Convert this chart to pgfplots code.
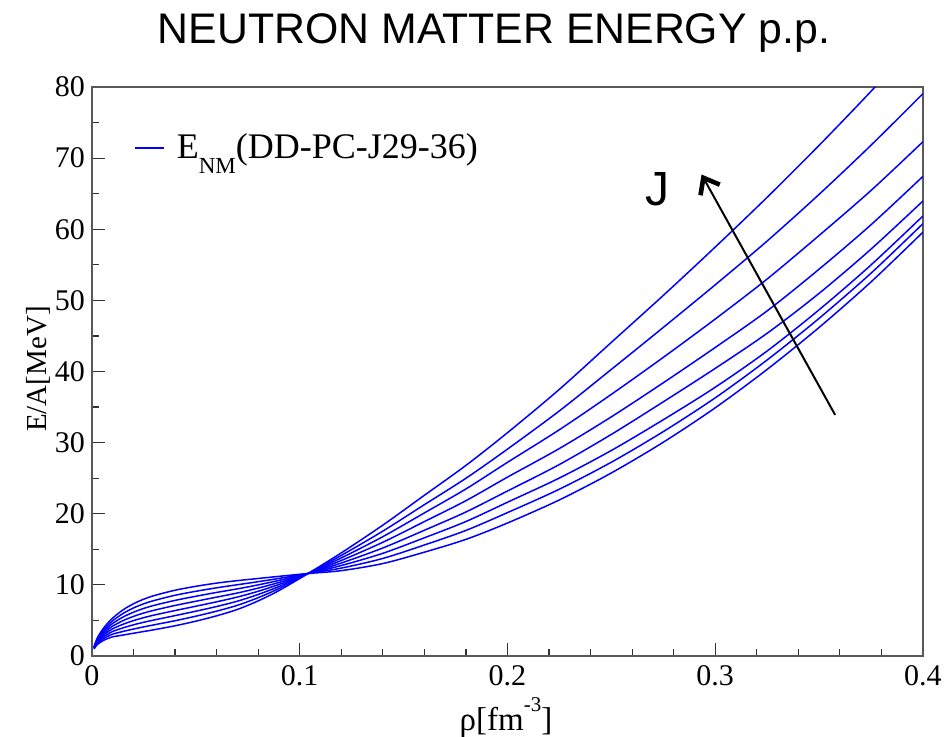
\documentclass[border=0pt]{standalone}
\usepackage{fontspec}
\setmainfont{Liberation Serif}
\newfontfamily\arialfont{Liberation Sans}
\usepackage{pgfplots}
\pgfplotsset{compat=1.18}
\usepackage{pgfplotstable}
\usetikzlibrary{arrows.meta}

% E/A of neutron matter for the DD-PC family (J = 29 ... 36 MeV)
% c1 = stiffest at high density, c8 = softest
\pgfplotstableread{
rho      c1    c2    c3    c4    c5    c6    c7    c8
0.001   1.00  1.04  1.09  1.13  1.17  1.21  1.26  1.30
0.0025  1.60  1.73  1.86  1.99  2.11  2.24  2.37  2.50
0.005   2.10  2.33  2.56  2.79  3.01  3.24  3.47  3.70
0.0075  2.45  2.76  3.06  3.37  3.68  3.99  4.29  4.60
0.010   2.70  3.08  3.46  3.84  4.21  4.59  4.97  5.35
0.015   2.95  3.46  3.96  4.47  4.98  5.49  5.99  6.50
0.020   3.20  3.79  4.39  4.98  5.57  6.16  6.76  7.35
0.025   3.45  4.10  4.75  5.40  6.05  6.70  7.35  8.00
0.030   3.70  4.39  5.07  5.76  6.44  7.13  7.81  8.50
0.040   4.25  4.96  5.68  6.39  7.11  7.82  8.54  9.25
0.050   4.90  5.60  6.30  7.00  7.70  8.40  9.10  9.80
0.060   5.65  6.31  6.96  7.62  8.28  8.94  9.59 10.25
0.070   6.55  7.13  7.71  8.29  8.86  9.44 10.02 10.60
0.080   7.75  8.20  8.65  9.10  9.55 10.00 10.45 10.90
0.090   9.20  9.49  9.77 10.06 10.34 10.63 10.91 11.20
0.104  11.60 11.60 11.60 11.60 11.60 11.60 11.60 11.60
0.120  14.50 14.14 13.79 13.43 13.07 12.72 12.36 12.00
0.140  18.40 17.56 16.78 15.99 15.19 14.44 13.72 13.00
0.160  22.60 21.28 20.12 18.90 17.68 16.62 15.61 14.60
0.180  26.80 24.99 23.49 21.84 20.25 18.91 17.66 16.40
0.200  31.40 29.09 27.23 25.15 23.20 21.62 20.16 18.70
0.225  37.50 34.47 31.82 29.18 26.93 25.03 23.46 21.95
0.250  44.10 40.30 36.79 33.63 31.16 28.90 27.25 25.74
0.275  50.70 46.20 41.99 38.42 35.74 33.22 31.55 30.06
0.300  57.50 52.19 47.38 43.38 40.44 37.79 36.30 34.90
0.325  64.50 58.35 53.01 48.53 45.38 42.89 41.63 40.30
0.350  71.80 64.91 59.13 54.39 50.99 48.68 47.48 46.20
0.375  79.40 71.82 65.46 60.64 57.21 54.99 53.83 52.60
0.400  87.30 79.07 72.31 67.44 63.98 61.87 60.79 59.60
}\enm

\begin{document}
\begin{tikzpicture}
\path[use as bounding box] (-46pt,-40pt) rectangle (428.5pt,328pt);
\begin{axis}[
  at={(0pt,0pt)}, anchor=south west,
  scale only axis, width=415.5pt, height=284.5pt,
  xmin=0, xmax=0.4, ymin=0, ymax=80,
  xtick={0,0.1,0.2,0.3,0.4}, minor x tick num=4,
  ytick={0,10,20,30,40,50,60,70,80}, minor y tick num=1,
  tick pos=left,
  major tick length=6.5pt, minor tick length=3.5pt,
  axis line style={gray!70!black, line width=0.9pt},
  every tick/.style={black!80, line width=0.6pt},
  /pgf/number format/assume math mode=true,
  ticklabel style={font=\fontsize{15}{17}\selectfont},
  xticklabel style={yshift=-1pt},
  legend style={at={(axis description cs:0.0505,0.893)}, anchor=west,
    draw=none, fill=none, inner sep=0pt,
    font=\fontsize{18}{21}\selectfont,
    nodes={inner sep=3.5pt}},
  legend cell align=left,
  legend image code/.code={\draw[blue, line width=0.75pt] (0pt,0pt) -- (14.5pt,0pt);},
  nm/.style={blue, line width=0.75pt, no markers, smooth},
]
\addplot[nm] table[x=rho, y=c1] {\enm};
\addlegendentry{\hspace{2.5pt}E\raisebox{-0.4em}{\fontsize{11.5}{12}\selectfont NM}(DD-PC-J29-36)}
\addplot[nm, forget plot] table[x=rho, y=c2] {\enm};
\addplot[nm, forget plot] table[x=rho, y=c3] {\enm};
\addplot[nm, forget plot] table[x=rho, y=c4] {\enm};
\addplot[nm, forget plot] table[x=rho, y=c5] {\enm};
\addplot[nm, forget plot] table[x=rho, y=c6] {\enm};
\addplot[nm, forget plot] table[x=rho, y=c7] {\enm};
\addplot[nm, forget plot] table[x=rho, y=c8] {\enm};

% direction of increasing symmetry energy J
\draw[line width=1pt, -{Straight Barb[length=7pt, width=11pt, line width=2.3pt]}]
  (axis cs:0.3577,33.9) -- (axis cs:0.2934,67.7);
\node[font=\arialfont\fontsize{24}{28}\selectfont] at (axis cs:0.272,65.6) {J};
\end{axis}

\node[anchor=base, font=\arialfont\fontsize{21.4}{25}\selectfont] at (201pt,306.5pt) {NEUTRON MATTER ENERGY p.p.};
\node[rotate=90, font=\fontsize{14.5}{16}\selectfont] at (-27pt,143.5pt) {E/A[MeV]};
\node[anchor=base, font=\fontsize{16.5}{18}\selectfont] at (207pt,-37pt) {ρ[fm\raisebox{0.55em}{\fontsize{10.5}{11}\selectfont -3}]};
\end{tikzpicture}
\end{document}
